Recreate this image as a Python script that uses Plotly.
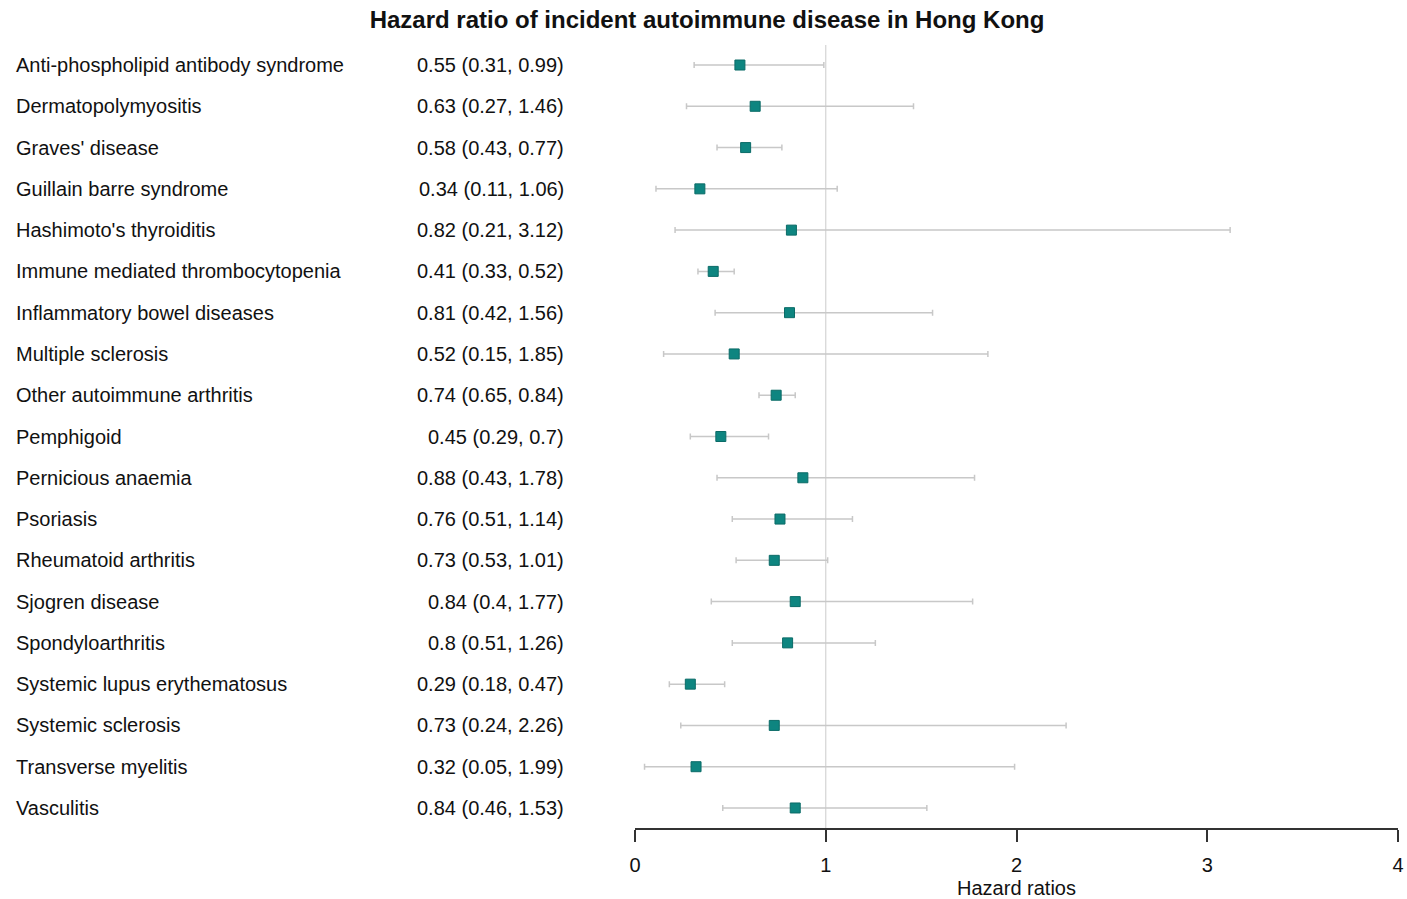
import plotly.graph_objects as go

diseases = [
    "Anti-phospholipid antibody syndrome", "Dermatopolymyositis", "Graves' disease",
    "Guillain barre syndrome", "Hashimoto's thyroiditis", "Immune mediated thrombocytopenia",
    "Inflammatory bowel diseases", "Multiple sclerosis", "Other autoimmune arthritis",
    "Pemphigoid", "Pernicious anaemia", "Psoriasis", "Rheumatoid arthritis",
    "Sjogren disease", "Spondyloarthritis", "Systemic lupus erythematosus",
    "Systemic sclerosis", "Transverse myelitis", "Vasculitis",
]
hr = [0.55, 0.63, 0.58, 0.34, 0.82, 0.41, 0.81, 0.52, 0.74, 0.45, 0.88, 0.76, 0.73, 0.84, 0.8, 0.29, 0.73, 0.32, 0.84]
lower = [0.31, 0.27, 0.43, 0.11, 0.21, 0.33, 0.42, 0.15, 0.65, 0.29, 0.43, 0.51, 0.53, 0.4, 0.51, 0.18, 0.24, 0.05, 0.46]
upper = [0.99, 1.46, 0.77, 1.06, 3.12, 0.52, 1.56, 1.85, 0.84, 0.7, 1.78, 1.14, 1.01, 1.77, 1.26, 0.47, 2.26, 1.99, 1.53]
x_ticks = [0, 1, 2, 3, 4]

W, H = 1407, 899


def px(xp):
    return xp / W


def py(yp):
    return 1 - yp / H


FONT = "Liberation Sans, Arial, sans-serif"
rows = list(range(1, len(diseases) + 1))
hr_text = [f"{h:g} ({l:g}, {u:g})" for h, l, u in zip(hr, lower, upper)]

fig = go.Figure()
fig.add_trace(go.Scatter(
    x=hr, y=rows, mode="markers",
    marker=dict(symbol="square", size=10, color="#0e8580", line=dict(color="#0b6b67", width=1)),
    error_x=dict(type="data", symmetric=False,
                 array=[u - h for u, h in zip(upper, hr)],
                 arrayminus=[h - l for h, l in zip(hr, lower)],
                 color="#c8c8c8", thickness=1.5, width=3),
    showlegend=False, hoverinfo="skip",
))

for r, name, t in zip(rows, diseases, hr_text):
    fig.add_annotation(x=px(14), xref="paper", y=r, yref="y", text=name, showarrow=False,
                       xanchor="left", yanchor="middle", font=dict(size=20, color="#111", family=FONT))
    fig.add_annotation(x=px(566), xref="paper", y=r, yref="y", text=t, showarrow=False,
                       xanchor="right", yanchor="middle", font=dict(size=20, color="#111", family=FONT))

fig.add_shape(type="line", x0=1, x1=1, xref="x", y0=0, y1=1, yref="y domain",
              line=dict(color="#d4d4d4", width=1.2), layer="below")

fig.update_layout(
    width=W, height=H, margin=dict(l=0, r=0, t=0, b=0, autoexpand=False),
    paper_bgcolor="white", plot_bgcolor="white",
    title=dict(text="<b>Hazard ratio of incident autoimmune disease in Hong Kong</b>",
               x=px(707), xanchor="center", y=py(20), yanchor="middle",
               font=dict(size=24, color="#111", family=FONT)),
    xaxis=dict(domain=[px(635), px(1398)], range=[0, 4], tickvals=x_ticks, automargin=False,
               showgrid=False, zeroline=False, showline=True, linecolor="#333", linewidth=1.5,
               ticks="outside", ticklen=12, tickwidth=1.5, tickcolor="#333", ticklabelstandoff=6,
               tickfont=dict(size=20, color="#111", family=FONT),
               title=dict(text="Hazard ratios", font=dict(size=20, color="#111", family=FONT), standoff=6)),
    yaxis=dict(domain=[py(828), py(45)], range=[19.485, 0.515], automargin=False,
               showgrid=False, zeroline=False, showticklabels=False, showline=False, ticks=""),
)

fig.write_html("out.html", config={"displayModeBar": False},
               post_script="document.body.style.margin='0';document.body.style.overflow='hidden';")
